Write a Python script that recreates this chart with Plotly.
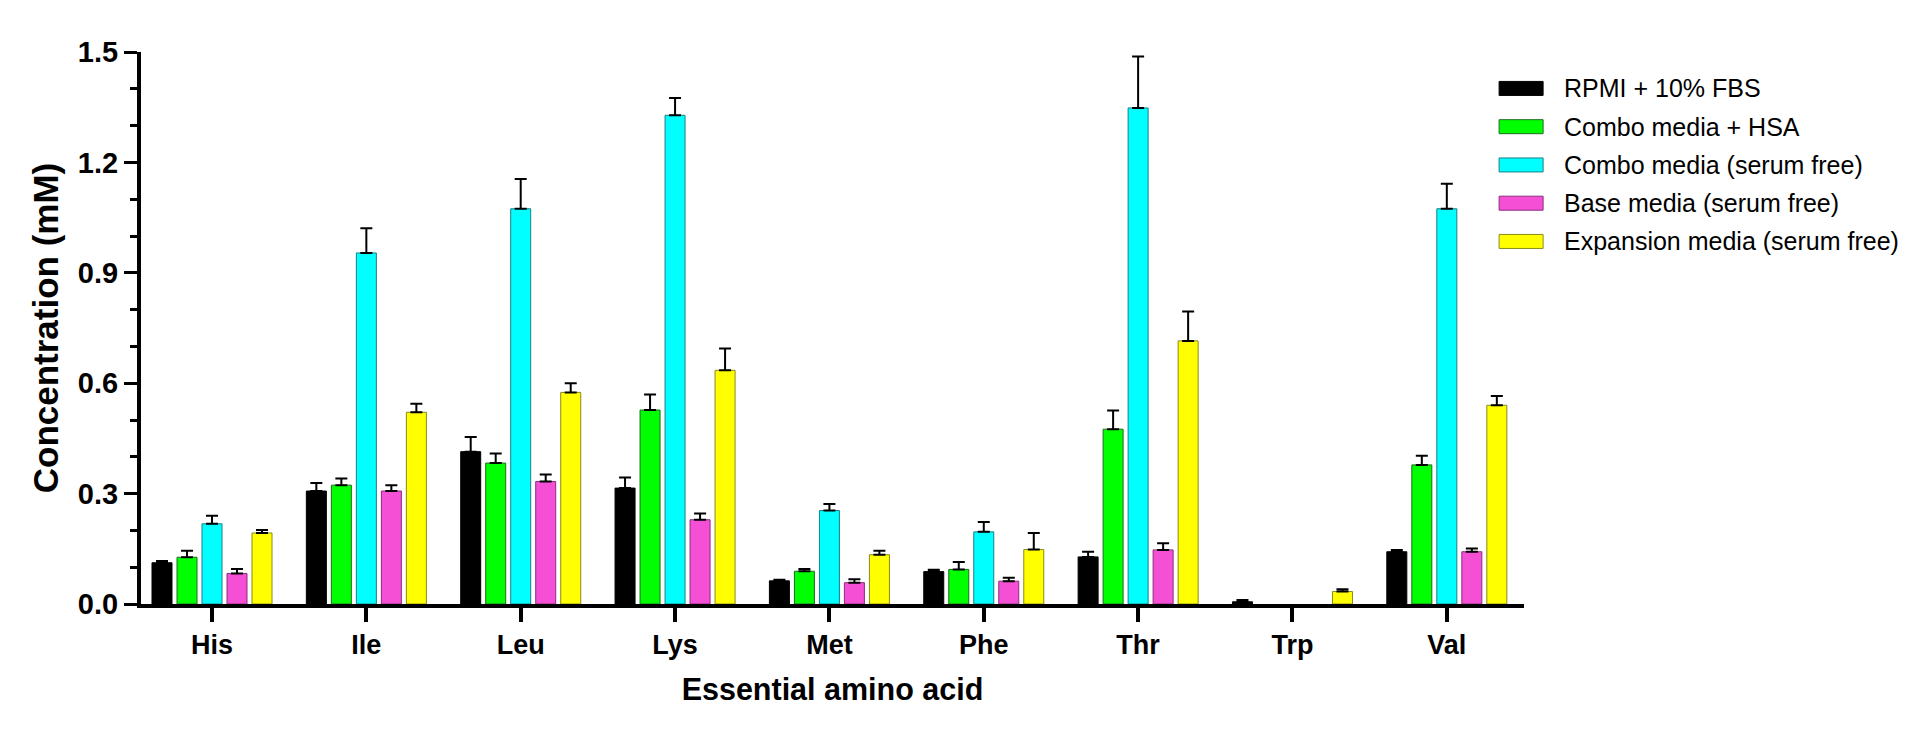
import plotly.graph_objects as go

# data
amino_acids = ['His', 'Ile', 'Leu', 'Lys', 'Met', 'Phe', 'Thr', 'Trp', 'Val']

media = ['RPMI + 10% FBS', 'Combo media + HSA', 'Combo media (serum free)',
         'Base media (serum free)', 'Expansion media (serum free)']

rpmi_fbs = [0.112, 0.307, 0.414, 0.315, 0.063, 0.088, 0.128, 0.006, 0.142]
rpmi_fbs_err = [0.005, 0.022, 0.040, 0.029, 0.003, 0.005, 0.014, 0.005, 0.005]

combo_hsa = [0.127, 0.323, 0.383, 0.527, 0.089, 0.094, 0.475, 0.0, 0.378]
combo_hsa_err = [0.018, 0.018, 0.026, 0.042, 0.006, 0.020, 0.051, 0.0, 0.025]

combo_sf = [0.218, 0.954, 1.074, 1.328, 0.254, 0.196, 1.348, 0.0, 1.074]
combo_sf_err = [0.022, 0.067, 0.081, 0.047, 0.018, 0.027, 0.140, 0.0, 0.068]

base_sf = [0.083, 0.307, 0.333, 0.229, 0.058, 0.062, 0.147, 0.0, 0.142]
base_sf_err = [0.012, 0.016, 0.019, 0.017, 0.009, 0.009, 0.018, 0.0, 0.009]

expansion_sf = [0.193, 0.521, 0.575, 0.635, 0.134, 0.148, 0.715, 0.034, 0.540]
expansion_sf_err = [0.008, 0.023, 0.025, 0.059, 0.011, 0.045, 0.080, 0.006, 0.025]

values = [rpmi_fbs, combo_hsa, combo_sf, base_sf, expansion_sf]
errors = [rpmi_fbs_err, combo_hsa_err, combo_sf_err, base_sf_err, expansion_sf_err]

fill_colors = ['#000000', '#00ff00', '#00ffff', '#f54fd6', '#ffff00']
edge_colors = ['#000000', '#1a6e1a', '#1a7f86', '#8a2f7c', '#8a8a1a']

font_family = 'Liberation Sans, Arial, sans-serif'

fig = go.Figure()

for i, name in enumerate(media):
    # zero (not detected) values: leave the slot empty, no stray error cap
    y = [v if v > 0 else None for v in values[i]]
    fig.add_trace(go.Bar(
        x=amino_acids, y=y, name=name,
        marker_color=fill_colors[i],
        marker_line_color=edge_colors[i],
        marker_line_width=1,
        error_y={'type': 'data', 'array': errors[i], 'symmetric': False,
                 'arrayminus': [0] * len(amino_acids),
                 'color': 'black', 'thickness': 2, 'width': 6},
        showlegend=False,
    ))

# legend drawn by hand: wide flat swatches like the original
shapes = []
annotations = []
for i, name in enumerate(media):
    y_row = 0.934 - i * 0.0693
    shapes.append(dict(
        type='rect', xref='paper', yref='paper',
        xsizemode='pixel', ysizemode='pixel',
        xanchor=0.982, yanchor=y_row,
        x0=0, x1=44, y0=-7, y1=7,
        fillcolor=fill_colors[i], line={'color': edge_colors[i], 'width': 1},
    ))
    annotations.append(dict(
        text=name, xref='paper', yref='paper', x=1.0275, y=y_row,
        xanchor='left', yanchor='middle', showarrow=False,
        font={'size': 25, 'color': 'black', 'family': font_family},
    ))

# page body adds 8px offset, margins compensate
fig.update_layout(
    width=1920, height=736,
    margin={'l': 133, 'r': 404, 't': 44, 'b': 140},
    paper_bgcolor='white',
    plot_bgcolor='white',
    barmode='group',
    bargap=0.19,
    bargroupgap=0.2,
    font={'family': font_family, 'color': 'black'},
    shapes=shapes,
    annotations=annotations,
    xaxis={
        'type': 'category',
        'range': [-0.46, 8.5],
        'showline': True, 'linewidth': 4, 'linecolor': 'black',
        'ticks': 'outside', 'ticklen': 14, 'tickwidth': 4, 'tickcolor': 'black',
        'tickfont': {'size': 27, 'weight': 'bold'},
        'showgrid': False, 'zeroline': False,
        'title': {'text': 'Essential amino acid', 'standoff': 20,
                  'font': {'size': 30.5, 'weight': 'bold'}},
    },
    yaxis={
        'range': [0, 1.5],
        'dtick': 0.3, 'tick0': 0, 'tickformat': '.1f',
        'showline': True, 'linewidth': 4, 'linecolor': 'black',
        'ticks': 'outside', 'ticklen': 13, 'tickwidth': 3, 'tickcolor': 'black',
        'minor': {'dtick': 0.1, 'tick0': 0, 'ticks': 'outside', 'ticklen': 7,
                  'tickwidth': 3, 'tickcolor': 'black'},
        'tickfont': {'size': 29, 'weight': 'bold'},
        'showgrid': False, 'zeroline': False,
        'title': {'text': 'Concentration (mM)', 'standoff': 10,
                  'font': {'size': 35, 'weight': 'bold'}},
    },
)

fig.write_html('out.html')
